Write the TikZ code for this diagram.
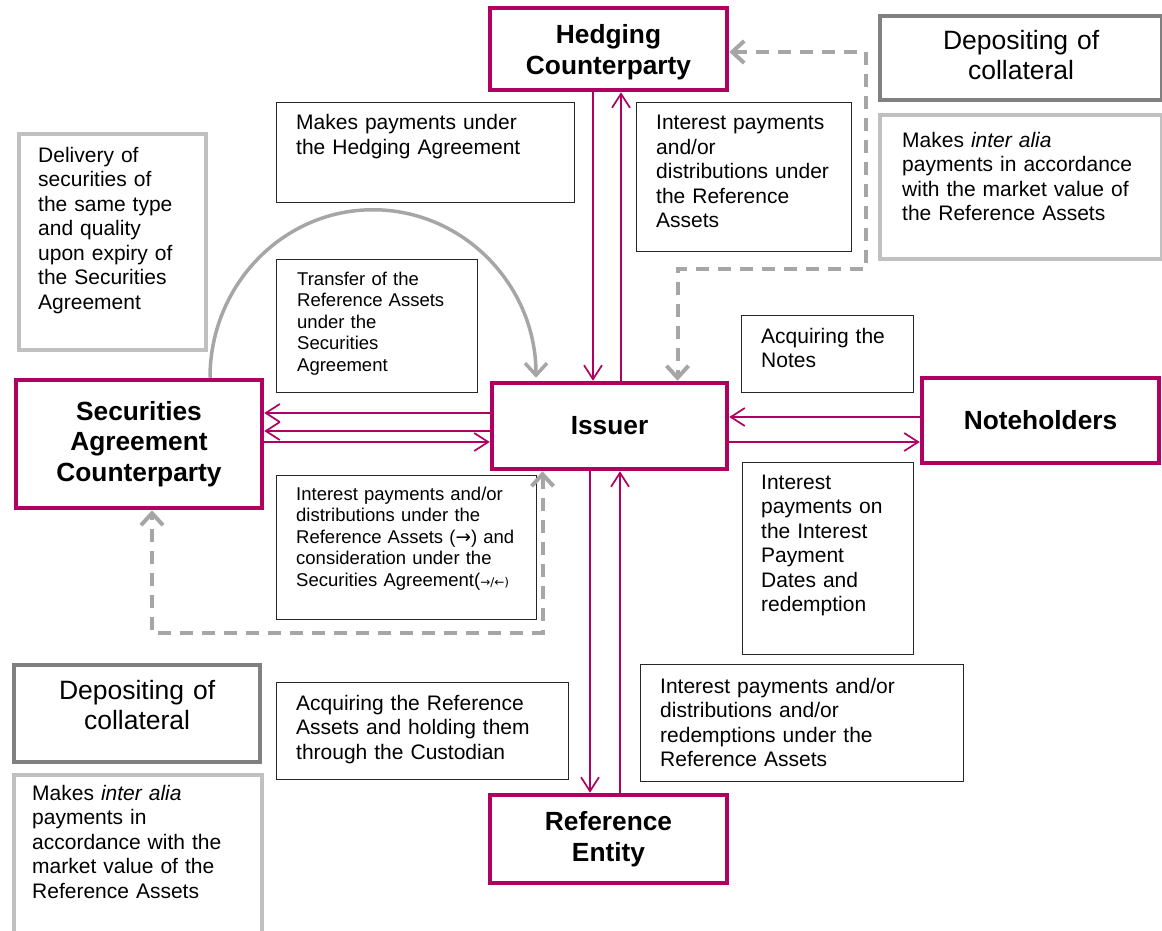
\documentclass[tikz,border=0pt]{standalone}
\usepackage{fontspec}
\setmainfont{Liberation Sans}
\newfontfamily\arrowfont{DejaVu Sans}
\usetikzlibrary{arrows.meta,calc,positioning}

\definecolor{plum}{RGB}{176,0,96}
\definecolor{darkgrey}{RGB}{128,128,128}
\definecolor{lightgrey}{RGB}{192,192,192}
\definecolor{dashgrey}{RGB}{166,166,166}

\tikzset{
  party/.style={draw=plum, line width=4.5pt, align=center, inner sep=0,
    font=\fontsize{26.3}{30.5}\selectfont\bfseries},
  greybox/.style={draw=#1, line width=4.2pt, anchor=north west, inner sep=0},
  infobox/.style={draw=black!85, line width=1.2pt, anchor=north west, inner sep=0},
  infotext/.style={anchor=base west, inner sep=0, text width=#1, align=left,
    font=\fontsize{21}{24.5}\selectfont},
  smalltext/.style={infotext=#1, font=\fontsize{18.5}{21.5}\selectfont},
  bigtext/.style={anchor=base, inner sep=0, text width=#1, align=center,
    font=\fontsize{26.5}{30}\selectfont},
  payflow/.style={draw=plum, line width=1.7pt, -{Straight Barb[length=14pt,width=18pt]}},
  collink/.style={draw=dashgrey, line width=4pt, dash pattern=on 13pt off 9pt,
    {Straight Barb[length=12pt,width=22pt]}-{Straight Barb[length=12pt,width=22pt]}},
  returnarc/.style={draw=dashgrey, line width=3.5pt, -{Straight Barb[length=12pt,width=22pt]}},
}

\begin{document}
\begin{tikzpicture}[x=1pt,y=-1pt]
  \useasboundingbox (0,0) rectangle (1162,931);

  % parties
  \node[party, minimum width=237, minimum height=82] (hedge) at (608.5,49) {\rule{0pt}{25pt}Hedging\\Counterparty};
  \node[party, minimum width=235, minimum height=86] (issuer) at (609.5,426) {Issuer};
  \node[party, minimum width=246, minimum height=128] (sac) at (139,444) {Securities\\Agreement\\Counterparty};
  \node[party, minimum width=237, minimum height=85] (notes) at (1040.5,420.5) {Noteholders};
  \node[party, minimum width=237, minimum height=88] (refent) at (608.5,839) {Reference\\Entity};

  % collateral boxes
  \node[greybox=darkgrey, minimum width=282, minimum height=84] (colltop) at (878,14) {};
  \node[bigtext=282] (colltop-t) at ([shift={(0,36)}]colltop.north) {Depositing of\\collateral};
  \node[greybox=lightgrey, minimum width=282, minimum height=144] (infotop) at (878,113) {};
  \node[infotext=260] (infotop-t) at ([shift={(24,34)}]infotop.north west)
    {Makes \textit{inter alia}\\payments in accordance\\with the market value of\\the Reference Assets};
  \node[greybox=lightgrey, minimum width=187, minimum height=216] (deliv) at (17,132) {};
  \node[infotext=170] (deliv-t) at ([shift={(21,30)}]deliv.north west)
    {Delivery of\\securities of\\the same type\\and quality\\upon expiry of\\the Securities\\Agreement};
  \node[greybox=darkgrey, minimum width=246, minimum height=97] (collbot) at (12,663) {};
  \node[bigtext=246] (collbot-t) at ([shift={(0,36)}]collbot.north) {Depositing of\\collateral};
  \node[greybox=lightgrey, minimum width=248, minimum height=167] (infobot) at (12,773) {};
  \node[infotext=230] (infobot-t) at ([shift={(20,27)}]infobot.north west)
    {Makes \textit{inter alia}\\payments in\\accordance with the\\market value of the\\Reference Assets};

  % flow descriptions
  \node[infobox, minimum width=298, minimum height=100] (hedgepay) at (276,102) {};
  \node[infotext=270] (hedgepay-t) at ([shift={(20,28)}]hedgepay.north west)
    {Makes payments under\\the Hedging Agreement};
  \node[infobox, minimum width=215, minimum height=149] (hedgerec) at (636,102) {};
  \node[infotext=195] (hedgerec-t) at ([shift={(20,28)}]hedgerec.north west)
    {Interest payments\\and/or\\distributions under\\the Reference\\Assets};
  \node[infobox, minimum width=201, minimum height=133] (transfer) at (276,259) {};
  \node[smalltext=180] (transfer-t) at ([shift={(21,26)}]transfer.north west)
    {Transfer of the\\Reference Assets\\under the\\Securities\\Agreement};
  \node[infobox, minimum width=172, minimum height=77] (notesbuy) at (741,315) {};
  \node[infotext=150] (notesbuy-t) at ([shift={(20,28)}]notesbuy.north west)
    {Acquiring the\\Notes};
  \node[infobox, minimum width=260, minimum height=144] (sacpay) at (276,475) {};
  \node[smalltext=240] (sacpay-t) at ([shift={(20,25)}]sacpay.north west)
    {Interest payments and/or\\distributions under the\\Reference Assets ({\arrowfont →}) and\\consideration under the\\Securities Agreement({\fontsize{12}{14}\selectfont\arrowfont →/←)}};
  \node[infobox, minimum width=171, minimum height=192] (notespay) at (742,462) {};
  \node[infotext=150] (notespay-t) at ([shift={(19,27)}]notespay.north west)
    {Interest\\payments on\\the Interest\\Payment\\Dates and\\redemption};
  \node[infobox, minimum width=292, minimum height=97] (refbuy) at (276,682) {};
  \node[infotext=270] (refbuy-t) at ([shift={(20,28)}]refbuy.north west)
    {Acquiring the Reference\\Assets and holding them\\through the Custodian};
  \node[infobox, minimum width=323, minimum height=117] (refpay) at (640,664) {};
  \node[infotext=300] (refpay-t) at ([shift={(20,29)}]refpay.north west)
    {Interest payments and/or\\distributions and/or\\redemptions under the\\Reference Assets};

  % hedging counterparty <-> issuer
  \coordinate (hd) at ([xshift=-15.5pt]hedge.south);
  \coordinate (hu) at ([xshift=12.5pt]hedge.south);
  \draw[payflow] (hd) -- (hd |- issuer.north);
  \draw[payflow] (hu |- issuer.north) -- (hu);

  % issuer <-> reference entity
  \coordinate (rd) at ([xshift=-18.5pt]refent.north);
  \coordinate (ru) at ([xshift=11.5pt]refent.north);
  \draw[payflow] (rd |- issuer.south) -- (rd);
  \draw[payflow] (ru) -- (ru |- issuer.south);

  % issuer <-> securities agreement counterparty
  \coordinate (sa) at ([yshift=13pt]issuer.west);
  \coordinate (sb) at ([yshift=-5pt]issuer.west);
  \coordinate (sc) at ([yshift=-16pt]issuer.west);
  \draw[payflow] (sa) -- (sa -| sac.east);
  \draw[payflow] (sb) -- (sb -| sac.east);
  \draw[payflow] (sc -| sac.east) -- (sc);

  % issuer <-> noteholders
  \coordinate (na) at ([yshift=9pt]issuer.east);
  \coordinate (nb) at ([yshift=-16pt]issuer.east);
  \draw[payflow] (na -| notes.west) -- (na);
  \draw[payflow] (nb) -- (nb -| notes.west);

  % collateral links
  \coordinate (hturn) at (866,269);
  \draw[collink] ([yshift=-3pt]hedge.east) -| (hturn) -| ([xshift=68pt]issuer.north);
  \coordinate (lturn) at (152,633);
  \draw[collink] ([xshift=-67pt]issuer.south) |- (lturn) -- ([xshift=13pt]sac.south);

  % redelivery of securities
  \draw[returnarc] ([xshift=71pt]sac.north) arc[start angle=180, end angle=0, x radius=163pt, y radius=168pt];
\end{tikzpicture}
\end{document}
